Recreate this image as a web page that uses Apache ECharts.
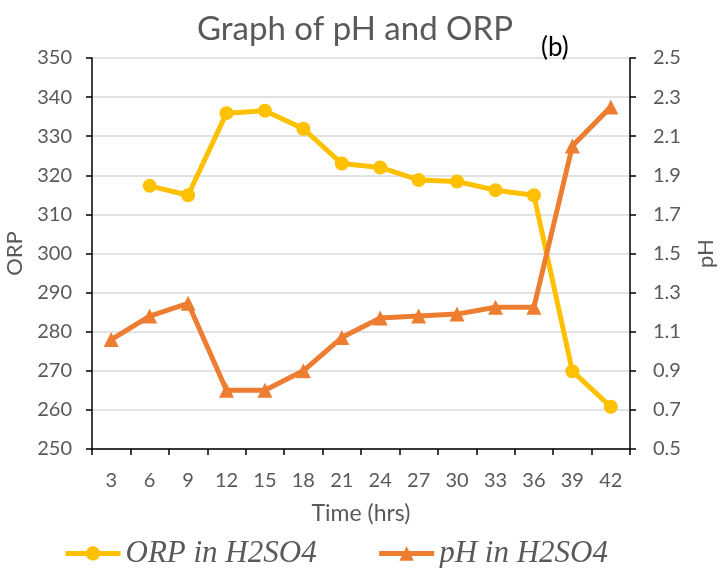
<!DOCTYPE html>
<html>
<head>
<meta charset="utf-8">
<script src="https://cdn.jsdelivr.net/npm/echarts@6/dist/echarts.min.js"></script>
<style>html,body{margin:0;padding:0;background:#fff}#c{width:722px;height:568px}</style>
</head>
<body>
<div id="c"></div>
<script>
const categories = ['3','6','9','12','15','18','21','24','27','30','33','36','39','42'];
const orp = [null, 317.3, 314.9, 335.9, 336.5, 331.9, 323.0, 322.0, 318.8, 318.4, 316.2, 314.9, 269.9, 260.8];
const ph = [1.06, 1.18, 1.245, 0.80, 0.80, 0.90, 1.07, 1.17, 1.18, 1.19, 1.225, 1.225, 2.05, 2.25];
const orpTicks = {min: 250, max: 350, interval: 10};
const phTicks = {min: 0.5, max: 2.5, interval: 0.2};

const gray = '#595959';
const font = 'Lato';
const chart = echarts.init(document.getElementById('c'));
chart.setOption({
  animation: false,
  backgroundColor: '#fff',
  title: [{
    text: 'Graph of pH and ORP',
    left: 350, top: 8, textAlign: 'center',
    textStyle: {fontFamily: font, fontSize: 33, fontWeight: 'normal', color: gray}
  }, {
    text: '(b)', left: 536, top: 30,
    textStyle: {fontFamily: font, fontSize: 26, fontWeight: 'normal', color: '#000'}
  }],
  grid: {left: 92, right: 92, top: 58, bottom: 119, outerBoundsMode: 'none', containLabel: false},
  legend: {
    top: 533, left: 58, itemGap: 60, itemWidth: 55, itemHeight: 18,
    lineStyle: {width: 5},
    textStyle: {fontFamily: 'Liberation Serif', fontStyle: 'italic', fontSize: 31, color: gray},
    data: ['ORP in H2SO4', 'pH in H2SO4']
  },
  xAxis: {
    type: 'category', data: categories, boundaryGap: true,
    name: 'Time (hrs)', nameLocation: 'middle', nameGap: 53,
    nameTextStyle: {fontFamily: font, fontSize: 23, color: gray},
    axisLine: {lineStyle: {color: '#000', width: 1.5}},
    axisTick: {show: true, alignWithLabel: false, length: 6, lineStyle: {color: '#000', width: 1.5}},
    axisLabel: {fontFamily: font, fontSize: 20, color: gray, margin: 22}
  },
  yAxis: [{
    type: 'value', min: orpTicks.min, max: orpTicks.max, interval: orpTicks.interval,
    name: 'ORP', nameLocation: 'middle', nameGap: 57, nameRotate: 90,
    nameTextStyle: {fontFamily: font, fontSize: 22, color: gray},
    axisLine: {show: true, lineStyle: {color: '#000', width: 1.5}},
    axisTick: {show: true, length: 6, lineStyle: {color: '#000', width: 1.5}},
    axisLabel: {fontFamily: font, fontSize: 20, color: gray, margin: 20},
    splitLine: {show: true, lineStyle: {color: '#d9d9d9', width: 1.5}}
  }, {
    type: 'value', min: phTicks.min, max: phTicks.max, interval: phTicks.interval,
    position: 'right',
    name: 'pH', nameLocation: 'middle', nameGap: 65, nameRotate: 90,
    nameTextStyle: {fontFamily: font, fontSize: 22, color: gray},
    axisLine: {show: true, lineStyle: {color: '#000', width: 1.5}},
    axisTick: {show: true, length: 6, lineStyle: {color: '#000', width: 1.5}},
    axisLabel: {fontFamily: font, fontSize: 20, color: gray, margin: 23,
      formatter: v => v.toFixed(1)},
    splitLine: {show: false}
  }],
  series: [{
    name: 'ORP in H2SO4', type: 'line', yAxisIndex: 0, data: orp,
    symbol: 'circle', symbolSize: 14,
    lineStyle: {color: '#FFC000', width: 5},
    itemStyle: {color: '#FFC000'},
    z: 2
  }, {
    name: 'pH in H2SO4', type: 'line', yAxisIndex: 1, data: ph,
    symbol: 'triangle', symbolSize: 15,
    lineStyle: {color: '#ED7D31', width: 5},
    itemStyle: {color: '#ED7D31'},
    z: 3
  }]
});
</script>
</body>
</html>
